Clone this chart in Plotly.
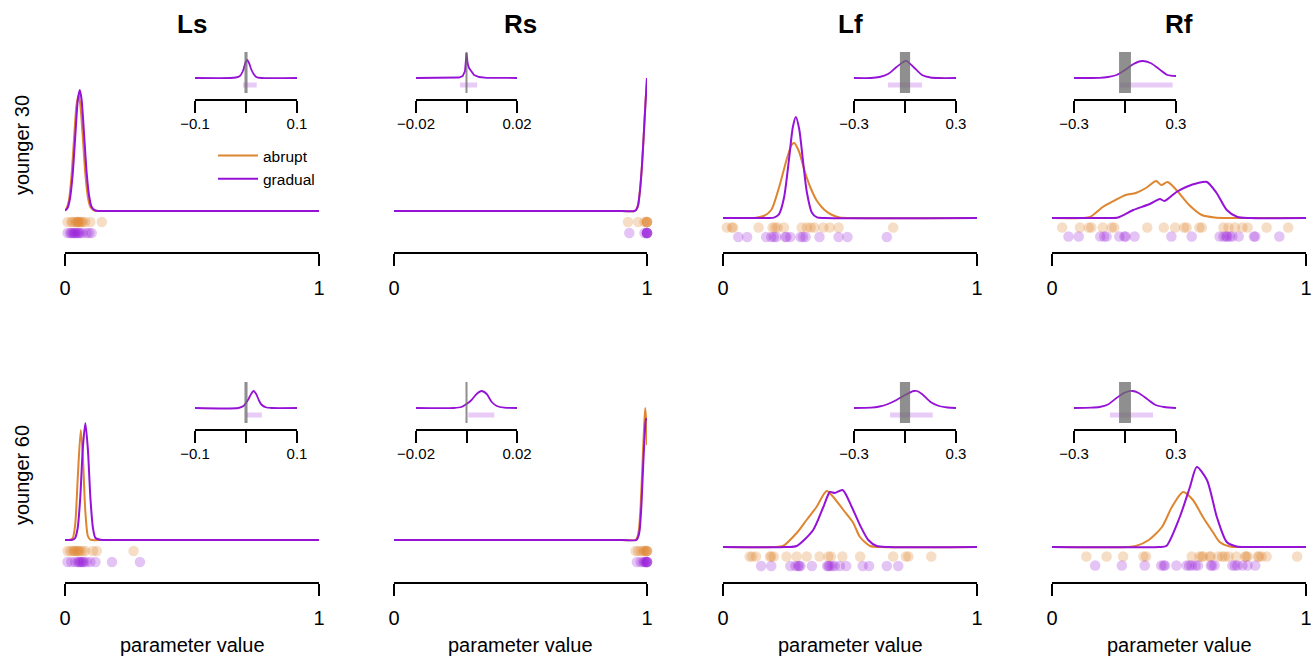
import plotly.graph_objects as go

W, H = 1316, 659

params = ["Ls", "Rs", "Lf", "Rf"]
groups = ["younger 30", "younger 60"]
conditions = ["abrupt", "gradual"]

# ---------------- main posterior densities (relative heights) ----------------
ls30_abrupt_x = [0, 0.005, 0.015, 0.025, 0.035, 0.045, 0.053, 0.06, 0.07, 0.08, 0.09, 0.1, 0.115, 0.2, 1.0]
ls30_abrupt_d = [0.5, 2, 10, 33, 70, 105, 116, 107, 74, 37, 14, 4, 0.5, 0, 0]
ls30_gradual_x = [0, 0.01, 0.02, 0.03, 0.04, 0.05, 0.058, 0.065, 0.075, 0.085, 0.095, 0.105, 0.12, 0.2, 1.0]
ls30_gradual_d = [0.5, 3, 13, 36, 73, 110, 121, 112, 77, 39, 15, 4, 0.5, 0, 0]

rs30_abrupt_x = [0, 0.9, 0.95, 0.958, 0.965, 0.972, 0.98, 0.988, 0.994, 1.0]
rs30_abrupt_d = [0, 0, 0, 1.5, 6, 20, 45, 80, 108, 133]
rs30_gradual_x = [0, 0.9, 0.95, 0.958, 0.965, 0.972, 0.98, 0.988, 0.994, 1.0]
rs30_gradual_d = [0, 0, 0, 1.5, 6, 20, 45, 80, 108, 133]

lf30_abrupt_x = [0, 0.1, 0.13, 0.16, 0.19, 0.22, 0.25, 0.27, 0.28, 0.30, 0.32, 0.345, 0.37, 0.40, 0.43, 0.46, 0.5, 1.0]
lf30_abrupt_d = [0, 0, 0.3, 2, 8, 30, 58, 73, 75, 66, 48, 30, 17, 8, 3, 0.5, 0, 0]
lf30_gradual_x = [0, 0.15, 0.2, 0.22, 0.24, 0.26, 0.275, 0.287, 0.30, 0.315, 0.33, 0.35, 0.37, 0.4, 1.0]
lf30_gradual_d = [0, 0, 0.4, 3.6, 20, 59, 91, 101, 89, 57, 26, 5.3, 0.6, 0, 0]

rf30_abrupt_x = [0, 0.12, 0.15, 0.2, 0.25, 0.29, 0.33, 0.37, 0.41, 0.43, 0.455, 0.49, 0.54, 0.59, 0.64, 0.7, 1.0]
rf30_abrupt_d = [0, 0, 1, 11, 18, 23, 25, 30, 37, 33, 36, 28, 13, 3, 0.5, 0, 0]
rf30_gradual_x = [0, 0.22, 0.26, 0.32, 0.385, 0.425, 0.443, 0.49, 0.528, 0.575, 0.61, 0.648, 0.688, 0.73, 0.78, 1.0]
rf30_gradual_d = [0, 0, 0.5, 8, 14, 19, 17, 26, 31, 35, 36, 25, 8, 1, 0, 0]

ls60_abrupt_x = [0, 0.02, 0.03, 0.04, 0.05, 0.062, 0.07, 0.08, 0.09, 0.1, 0.15, 1.0]
ls60_abrupt_d = [0, 0.2, 1.6, 15, 61, 110, 85, 29, 4, 0.3, 0, 0]
ls60_gradual_x = [0, 0.03, 0.04, 0.05, 0.06, 0.07, 0.08, 0.09, 0.1, 0.11, 0.12, 0.14, 0.2, 1.0]
ls60_gradual_d = [0, 0.2, 2, 12, 42, 91, 117, 91, 42, 12, 2, 0.2, 0, 0]

rs60_abrupt_x = [0, 0.9, 0.955, 0.962, 0.968, 0.975, 0.982, 0.988, 0.993, 0.997, 1.0]
rs60_abrupt_d = [0, 0, 0, 3, 10, 35, 75, 110, 132, 118, 95]
rs60_gradual_x = [0, 0.9, 0.958, 0.965, 0.971, 0.978, 0.985, 0.991, 0.996, 1.0]
rs60_gradual_d = [0, 0, 0, 3, 10, 35, 75, 105, 121, 120]

lf60_abrupt_x = [0, 0.2, 0.236, 0.29, 0.329, 0.368, 0.408, 0.434, 0.474, 0.513, 0.539, 0.579, 0.62, 1.0]
lf60_abrupt_d = [0, 0, 1, 14, 27, 40, 56, 50, 37, 24, 10, 1, 0, 0]
lf60_gradual_x = [0, 0.25, 0.29, 0.355, 0.395, 0.421, 0.44, 0.471, 0.507, 0.539, 0.572, 0.605, 0.65, 1.0]
lf60_gradual_d = [0, 0, 1, 17, 40, 55, 54, 57, 40, 22, 7, 1, 0, 0]

rf60_abrupt_x = [0, 0.3, 0.33, 0.381, 0.433, 0.472, 0.516, 0.555, 0.594, 0.633, 0.66, 0.7, 0.75, 1.0]
rf60_abrupt_d = [0, 0, 1, 7, 20, 40, 55, 47, 30, 15, 5, 0.5, 0, 0]
rf60_gradual_x = [0, 0.42, 0.45, 0.503, 0.543, 0.57, 0.61, 0.649, 0.688, 0.727, 0.77, 1.0]
rf60_gradual_d = [0, 0, 1, 30, 60, 80, 67, 30, 5, 0.5, 0, 0]

# ---------------- individual participant estimates ----------------
ls30_abrupt_pts = [0.01, 0.025, 0.03, 0.04, 0.045, 0.05, 0.05, 0.055, 0.06, 0.065, 0.07, 0.08, 0.10, 0.145]
ls30_gradual_pts = [0.01, 0.02, 0.025, 0.03, 0.035, 0.04, 0.045, 0.05, 0.055, 0.06, 0.07, 0.085, 0.095, 0.105]
rs30_abrupt_pts = [0.925, 0.965, 0.99, 1.0, 1.0, 1.0, 1.0]
rs30_gradual_pts = [0.93, 0.99, 1.0, 1.0, 1.0, 1.0, 1.0]
lf30_abrupt_pts = [0.015, 0.035, 0.04, 0.14, 0.195, 0.205, 0.215, 0.24, 0.31, 0.33, 0.345, 0.36, 0.395, 0.42, 0.455, 0.67]
lf30_gradual_pts = [0.06, 0.095, 0.17, 0.19, 0.2, 0.21, 0.245, 0.25, 0.265, 0.305, 0.315, 0.325, 0.38, 0.455, 0.49, 0.645]
rf30_abrupt_pts = [0.04, 0.11, 0.145, 0.155, 0.2, 0.235, 0.245, 0.375, 0.44, 0.485, 0.52, 0.53, 0.58, 0.59,
                   0.675, 0.695, 0.72, 0.75, 0.77, 0.845, 0.93]
rf30_gradual_pts = [0.065, 0.105, 0.19, 0.205, 0.215, 0.265, 0.285, 0.29, 0.325, 0.47, 0.55, 0.66, 0.675, 0.685,
                    0.69, 0.70, 0.71, 0.735, 0.795, 0.80, 0.895]
ls60_abrupt_pts = [0.01, 0.02, 0.03, 0.035, 0.04, 0.045, 0.05, 0.055, 0.06, 0.07, 0.08, 0.11, 0.125, 0.27]
ls60_gradual_pts = [0.01, 0.025, 0.04, 0.05, 0.055, 0.06, 0.065, 0.07, 0.075, 0.085, 0.1, 0.12, 0.185, 0.295]
rs60_abrupt_pts = [0.955, 0.965, 0.975, 0.985, 0.99, 0.995, 1.0, 1.0, 1.0]
rs60_gradual_pts = [0.96, 0.975, 0.985, 0.99, 0.995, 1.0, 1.0, 1.0, 1.0]
lf60_abrupt_pts = [0.105, 0.115, 0.13, 0.185, 0.19, 0.2, 0.25, 0.29, 0.33, 0.38, 0.415, 0.425, 0.47, 0.54,
                   0.67, 0.72, 0.73, 0.82]
lf60_gradual_pts = [0.15, 0.19, 0.265, 0.285, 0.295, 0.3, 0.305, 0.35, 0.41, 0.415, 0.42, 0.43, 0.44, 0.46,
                    0.485, 0.55, 0.575, 0.645, 0.69]
rf60_abrupt_pts = [0.135, 0.215, 0.28, 0.36, 0.37, 0.55, 0.58, 0.59, 0.595, 0.62, 0.625, 0.655, 0.67, 0.68,
                   0.695, 0.725, 0.76, 0.765, 0.77, 0.81, 0.815, 0.825, 0.845, 0.965]
rf60_gradual_pts = [0.17, 0.275, 0.365, 0.43, 0.44, 0.445, 0.49, 0.53, 0.54, 0.55, 0.565, 0.575, 0.625, 0.63,
                    0.64, 0.71, 0.72, 0.73, 0.75, 0.77, 0.8]

# ---------------- difference (gradual - abrupt) posteriors for insets ----------------
ls30_diff_x = [-0.1, -0.03, -0.02, -0.012, -0.006, -0.002, 0.002, 0.006, 0.01, 0.015, 0.02, 0.03, 0.1]
ls30_diff_d = [0, 0, 0.5, 2, 7, 14, 18, 15, 9, 4, 1, 0, 0]
rs30_diff_x = [-0.02, -0.006, -0.003, -0.0015, -0.0006, 0, 0.0005, 0.001, 0.002, 0.003, 0.005, 0.008, 0.02]
rs30_diff_d = [0, 0, 0.5, 2, 7, 25, 14, 10, 6, 3, 1, 0.2, 0]
lf30_diff_x = [-0.3, -0.2, -0.15, -0.1, -0.05, 0, 0.01, 0.05, 0.1, 0.15, 0.2, 0.3]
lf30_diff_d = [0, 0, 1, 4, 11, 17, 17, 11, 3, 0.5, 0, 0]
rf30_diff_x = [-0.3, -0.15, -0.1, -0.05, 0, 0.05, 0.1, 0.15, 0.2, 0.25, 0.3]
rf30_diff_d = [0, 0.2, 1, 3, 8, 14, 17, 15, 9, 3, 2]
ls60_diff_x = [-0.1, -0.015, -0.005, 0.005, 0.01, 0.015, 0.02, 0.025, 0.03, 0.04, 0.05, 0.1]
ls60_diff_d = [0, 0, 2, 9, 14, 17, 14, 8, 3.5, 0.5, 0, 0]
rs60_diff_x = [-0.02, -0.005, -0.002, 0, 0.002, 0.004, 0.006, 0.008, 0.01, 0.012, 0.015, 0.02]
rs60_diff_d = [0, 0, 1, 4, 8, 14, 17, 14, 6, 2, 0.3, 0]
lf60_diff_x = [-0.3, -0.2, -0.15, -0.1, -0.05, 0, 0.05, 0.07, 0.1, 0.15, 0.2, 0.25, 0.3]
lf60_diff_d = [0, 0.3, 1.5, 4, 8, 13, 17, 17, 14, 6, 2, 0.5, 0]
rf60_diff_x = [-0.3, -0.2, -0.15, -0.1, -0.05, 0, 0.045, 0.08, 0.13, 0.18, 0.23, 0.3]
rf60_diff_d = [0, 0.3, 1, 3.5, 10, 15.5, 17, 15, 9, 3, 1, 0]

# 95% HDI of difference, per panel (row-major: younger 30 Ls..Rf, younger 60 Ls..Rf)
hdi_low = [-0.006, -0.0026, -0.1, -0.03, 0.001, 0.0007, -0.088, -0.088]
hdi_high = [0.021, 0.0042, 0.1, 0.28, 0.031, 0.011, 0.163, 0.165]
# ROPE half-widths per parameter, inset x-limits and tick labels
rope_half = [0.003, 0.0004, 0.03, 0.035]
inset_lim = [0.1, 0.02, 0.3, 0.3]
inset_ticktext = [["\u22120.1", "", "0.1"], ["\u22120.02", "", "0.02"],
                  ["\u22120.3", "", "0.3"], ["\u22120.3", "", "0.3"]]

panels = [
    (ls30_abrupt_x, ls30_abrupt_d, ls30_gradual_x, ls30_gradual_d, ls30_abrupt_pts, ls30_gradual_pts, ls30_diff_x, ls30_diff_d),
    (rs30_abrupt_x, rs30_abrupt_d, rs30_gradual_x, rs30_gradual_d, rs30_abrupt_pts, rs30_gradual_pts, rs30_diff_x, rs30_diff_d),
    (lf30_abrupt_x, lf30_abrupt_d, lf30_gradual_x, lf30_gradual_d, lf30_abrupt_pts, lf30_gradual_pts, lf30_diff_x, lf30_diff_d),
    (rf30_abrupt_x, rf30_abrupt_d, rf30_gradual_x, rf30_gradual_d, rf30_abrupt_pts, rf30_gradual_pts, rf30_diff_x, rf30_diff_d),
    (ls60_abrupt_x, ls60_abrupt_d, ls60_gradual_x, ls60_gradual_d, ls60_abrupt_pts, ls60_gradual_pts, ls60_diff_x, ls60_diff_d),
    (rs60_abrupt_x, rs60_abrupt_d, rs60_gradual_x, rs60_gradual_d, rs60_abrupt_pts, rs60_gradual_pts, rs60_diff_x, rs60_diff_d),
    (lf60_abrupt_x, lf60_abrupt_d, lf60_gradual_x, lf60_gradual_d, lf60_abrupt_pts, lf60_gradual_pts, lf60_diff_x, lf60_diff_d),
    (rf60_abrupt_x, rf60_abrupt_d, rf60_gradual_x, rf60_gradual_d, rf60_abrupt_pts, rf60_gradual_pts, rf60_diff_x, rf60_diff_d),
]

# ---------------- styling / geometry (pixels) ----------------
FONT = "Liberation Sans, Arial, Helvetica, sans-serif"
ORANGE = "#DE8530"
PURPLE = "#9512D6"
ORANGE_DOT = "rgba(222,133,48,0.28)"
PURPLE_DOT = "rgba(149,18,214,0.25)"
HDI_COL = "rgba(149,18,214,0.22)"
ROPE_COL = "rgba(105,105,105,0.75)"

col_x0 = [65, 394, 723, 1052]
col_x1 = [319, 647, 977, 1306]
ins_x0 = [195, 416, 854, 1074]
ins_x1 = [297, 517, 956, 1176]
main_axis_py = [253, 583]
ins_axis_py = [100, 430]
base_py = [[211, 211, 218, 218], [540, 540, 547, 547]]
ins_base_off = 22
dot_off = [(-11, -22), (-11, -22), (-9.5, -19), (-9.5, -18.5)]


def fx(px):
    return px / W


def fy(py):
    return 1 - py / H


fig = go.Figure()
layout = {}
shapes = []
annotations = []


def axname(i):
    return ("xaxis" if i == 1 else f"xaxis{i}"), ("yaxis" if i == 1 else f"yaxis{i}"), \
           ("x" if i == 1 else f"x{i}"), ("y" if i == 1 else f"y{i}")

for r in range(2):
    for c in range(4):
        k = r * 4 + c
        ax, dx, gx, gd, apts, gpts, ddx, ddd = panels[k]
        m = k + 1
        n = k + 9
        mxa, mya, mx, my = axname(m)
        ixa, iya, ix, iy = axname(n)

        # main panel axes
        apy = main_axis_py[r]
        top_py = apy - 210
        bpy = base_py[r][c]
        layout[mxa] = dict(domain=[fx(col_x0[c]), fx(col_x1[c])], range=[0, 1], anchor="free",
                           position=fy(apy), showline=True, linecolor="black", linewidth=1.8,
                           ticks="outside", ticklen=12, tickwidth=1.8, tickcolor="black",
                           tickvals=[0, 1], ticktext=["0", "1"], showgrid=False, zeroline=False,
                           tickfont=dict(size=20, color="black", family=FONT), ticklabelstandoff=5,
                           automargin=False, fixedrange=True)
        layout[mya] = dict(domain=[fy(apy), fy(top_py)], range=[-(apy - bpy), bpy - top_py],
                           anchor=mx, visible=False, automargin=False, fixedrange=True)

        show = (k == 0)
        fig.add_trace(go.Scatter(x=ax, y=dx, xaxis=mx, yaxis=my, mode="lines", name="abrupt",
                                 line=dict(color=ORANGE, width=2, shape="spline", smoothing=0.7),
                                 showlegend=show, legendgroup="abrupt", cliponaxis=False, hoverinfo="skip"))
        fig.add_trace(go.Scatter(x=gx, y=gd, xaxis=mx, yaxis=my, mode="lines", name="gradual",
                                 line=dict(color=PURPLE, width=2, shape="spline", smoothing=0.7),
                                 showlegend=show, legendgroup="gradual", cliponaxis=False, hoverinfo="skip"))
        oy, py_ = dot_off[c]
        fig.add_trace(go.Scatter(x=apts, y=[oy] * len(apts), xaxis=mx, yaxis=my, mode="markers",
                                 marker=dict(size=10.5, color=ORANGE_DOT, line=dict(width=0)),
                                 showlegend=False, cliponaxis=False, hoverinfo="skip"))
        fig.add_trace(go.Scatter(x=gpts, y=[py_] * len(gpts), xaxis=mx, yaxis=my, mode="markers",
                                 marker=dict(size=10.5, color=PURPLE_DOT, line=dict(width=0)),
                                 showlegend=False, cliponaxis=False, hoverinfo="skip"))

        # inset axes
        ipy = ins_axis_py[r]
        lim = inset_lim[c]
        layout[ixa] = dict(domain=[fx(ins_x0[c]), fx(ins_x1[c])], range=[-lim, lim], anchor="free",
                           position=fy(ipy), showline=True, linecolor="black", linewidth=1.6,
                           ticks="outside", ticklen=12, tickwidth=1.6, tickcolor="black",
                           tickvals=[-lim, 0, lim], ticktext=inset_ticktext[c], showgrid=False,
                           zeroline=False, tickfont=dict(size=15, color="black", family=FONT),
                           ticklabelstandoff=-2, automargin=False, fixedrange=True)
        layout[iya] = dict(domain=[fy(ipy), fy(ipy - 62)], range=[-ins_base_off, 62 - ins_base_off],
                           anchor=ix, visible=False, automargin=False, fixedrange=True)

        fig.add_trace(go.Scatter(x=[hdi_low[k], hdi_high[k]], y=[-7, -7], xaxis=ix, yaxis=iy, mode="lines",
                                 line=dict(color=HDI_COL, width=5), showlegend=False,
                                 cliponaxis=False, hoverinfo="skip"))
        fig.add_trace(go.Scatter(x=ddx, y=ddd, xaxis=ix, yaxis=iy, mode="lines",
                                 line=dict(color=PURPLE, width=1.8,
                                           shape=("linear" if c == 1 and r == 0 else "spline"),
                                           smoothing=0.7),
                                 showlegend=False, cliponaxis=False, hoverinfo="skip"))
        shapes.append(dict(type="rect", xref=ix, yref=iy, x0=-rope_half[c], x1=rope_half[c],
                           y0=-15, y1=26, fillcolor=ROPE_COL, line=dict(width=0), layer="above"))

        if r == 0:
            annotations.append(dict(text=f"<b>{params[c]}</b>", x=fx((col_x0[c] + col_x1[c]) / 2), y=fy(24),
                                    xref="paper", yref="paper", showarrow=False,
                                    xanchor="center", yanchor="middle",
                                    font=dict(size=26, color="black", family=FONT)))
        else:
            annotations.append(dict(text="parameter value", x=fx((col_x0[c] + col_x1[c]) / 2), y=fy(645),
                                    xref="paper", yref="paper", showarrow=False,
                                    xanchor="center", yanchor="middle",
                                    font=dict(size=20, color="black", family=FONT)))

for r in range(2):
    annotations.append(dict(text=groups[r], x=fx(22), y=fy(145 + 330 * r), xref="paper", yref="paper",
                            showarrow=False, textangle=-90, xanchor="center", yanchor="middle",
                            font=dict(size=20, color="black", family=FONT)))

layout.update(dict(
    width=W, height=H, margin=dict(l=0, r=0, t=0, b=0, pad=0, autoexpand=False),
    paper_bgcolor="white", plot_bgcolor="white",
    font=dict(family=FONT, color="black"),
    shapes=shapes, annotations=annotations,
    showlegend=True,
    legend=dict(x=fx(213), y=fy(139), xanchor="left", yanchor="top", bgcolor="rgba(0,0,0,0)",
                font=dict(size=15.5, color="black", family=FONT), tracegroupgap=0, itemwidth=40),
))
fig.update_layout(layout)
fig.write_html("out.html")
